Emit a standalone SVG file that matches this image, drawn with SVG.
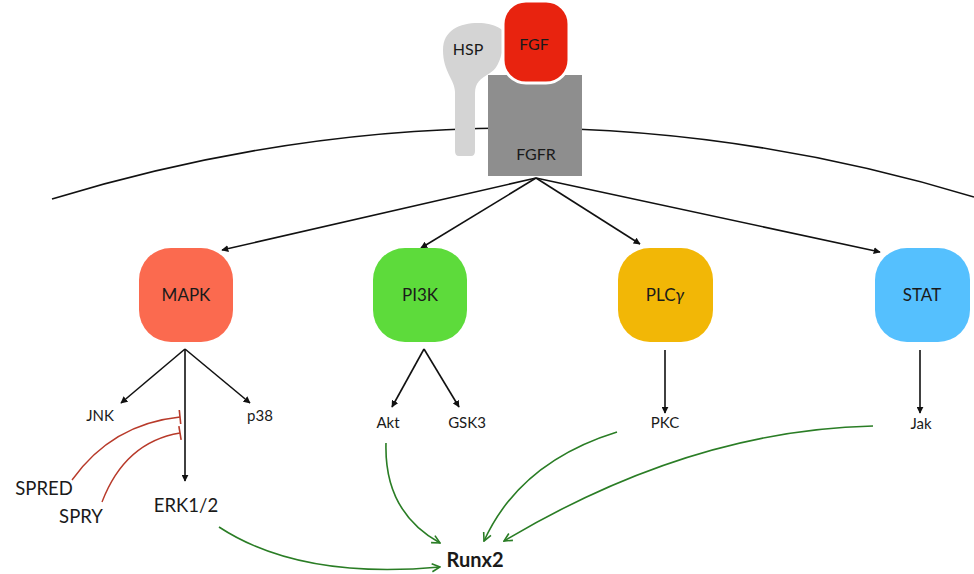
<svg xmlns="http://www.w3.org/2000/svg" width="974" height="574" viewBox="0 0 974 574">
<style>
text{font-family:Lato,"Open Sans","Liberation Sans",sans-serif;fill:#1a1a1a;text-anchor:middle}
.node text{font-size:17px}
.lbl{font-size:15px}
.big{font-size:18.5px}
.k{stroke:#111;stroke-width:1.6;fill:none}
.g{stroke:#2a7d25;stroke-width:1.6;fill:none}
.r{stroke:#b83a2a;stroke-width:1.4;fill:none}
</style>
<defs>
<marker id="ah" viewBox="0 0 10 10" refX="9" refY="5" markerWidth="7" markerHeight="7" markerUnits="userSpaceOnUse" orient="auto"><path d="M0 0 L10 5 L0 10 Z" fill="#111"/></marker>
<marker id="ag" viewBox="0 0 10 10" refX="9" refY="5" markerWidth="10" markerHeight="10" markerUnits="userSpaceOnUse" orient="auto"><path d="M1 1 L9 5 L1 9" fill="none" stroke="#2a7d25" stroke-width="1.6"/></marker>
<marker id="tb" viewBox="0 0 4 14" refX="2" refY="7" markerWidth="4" markerHeight="14" markerUnits="userSpaceOnUse" orient="auto"><path d="M2 0 L2 14" stroke="#b83a2a" stroke-width="1.6"/></marker>
</defs>
<g id="membrane"><path d="M 52 199 Q 515 58 974 197" fill="none" stroke="#111" stroke-width="1.6"/></g>
<g id="HSP"><path d="M 459 156 Q 455 156 455 151 L 455 92 C 455 80 443 72 443 50 C 443 30 460 23 478 23 C 495 23 507 30 508 40 C 500 50 502 66 490 73 C 480 79 475 83 475 93 L 475 151 Q 475 156 471 156 Z" fill="#d4d4d4"/><text x="468" y="55" style="font-size:16px">HSP</text></g>
<g id="FGFR"><rect x="488" y="75" width="94" height="101" fill="#8e8e8e"/><text x="536" y="160" style="font-size:16px">FGFR</text></g>
<g id="FGF"><rect x="503" y="1" width="66" height="82" rx="23" fill="#e8230f" stroke="#fff" stroke-width="3"/><text x="534" y="50" style="font-size:16px">FGF</text></g>
<g id="connectors">
<path class="k" d="M536 178 L222 250" marker-end="url(#ah)"/>
<path class="k" d="M536 178 L421 248" marker-end="url(#ah)"/>
<path class="k" d="M536 178 L640 244" marker-end="url(#ah)"/>
<path class="k" d="M536 178 L880 252" marker-end="url(#ah)"/>
<path class="k" d="M185 349 L121 403" marker-end="url(#ah)"/>
<path class="k" d="M185 349 L250 403" marker-end="url(#ah)"/>
<path class="k" d="M185 349 L185 481" marker-end="url(#ah)"/>
<path class="k" d="M424 349 L392 407" marker-end="url(#ah)"/>
<path class="k" d="M424 349 L459 407" marker-end="url(#ah)"/>
<path class="k" d="M665 350 L665 413" marker-end="url(#ah)"/>
<path class="k" d="M920 350 L920 413" marker-end="url(#ah)"/>
<path class="r" d="M72 480 Q 112 424 180 417" marker-end="url(#tb)"/>
<path class="r" d="M102 502 Q 125 442 180 433" marker-end="url(#tb)"/>
<path class="g" d="M219 527 Q 300 580 440 567" marker-end="url(#ag)"/>
<path class="g" d="M386 443 Q 384 512 440 543" marker-end="url(#ag)"/>
<path class="g" d="M617 432 Q 520 462 484 541" marker-end="url(#ag)"/>
<path class="g" d="M873 426 Q 690 430 504 541" marker-end="url(#ag)"/>
</g>
<g id="MAPK" class="node"><rect x="139" y="248" width="94" height="94" rx="32" fill="#fb6a4f"/><text x="186" y="301">MAPK</text></g>
<g id="PI3K" class="node"><rect x="373" y="248" width="94" height="94" rx="32" fill="#5ddb3b"/><text x="420" y="301">PI3K</text></g>
<g id="PLCg" class="node"><rect x="618" y="248" width="95" height="94" rx="32" fill="#f2b706"/><text x="665" y="301">PLC<tspan font-style="italic">γ</tspan></text></g>
<g id="STAT" class="node"><rect x="875" y="248" width="95" height="94" rx="32" fill="#55c0fe"/><text x="922" y="301">STAT</text></g>
<g id="JNK"><text class="lbl" x="100" y="421">JNK</text></g>
<g id="p38"><text class="lbl" x="260" y="421">p38</text></g>
<g id="ERK"><text class="big" x="186" y="512">ERK1/2</text></g>
<g id="SPRED"><text class="big" x="44" y="495">SPRED</text></g>
<g id="SPRY"><text class="big" x="81" y="523">SPRY</text></g>
<g id="Akt"><text class="lbl" x="388" y="428">Akt</text></g>
<g id="GSK3"><text class="lbl" x="467" y="428">GSK3</text></g>
<g id="PKC"><text class="lbl" x="665" y="428">PKC</text></g>
<g id="Jak"><text class="lbl" x="921" y="429">Jak</text></g>
<g id="Runx2"><text x="475" y="567" style="font-size:20px;font-weight:bold">Runx2</text></g>
</svg>
